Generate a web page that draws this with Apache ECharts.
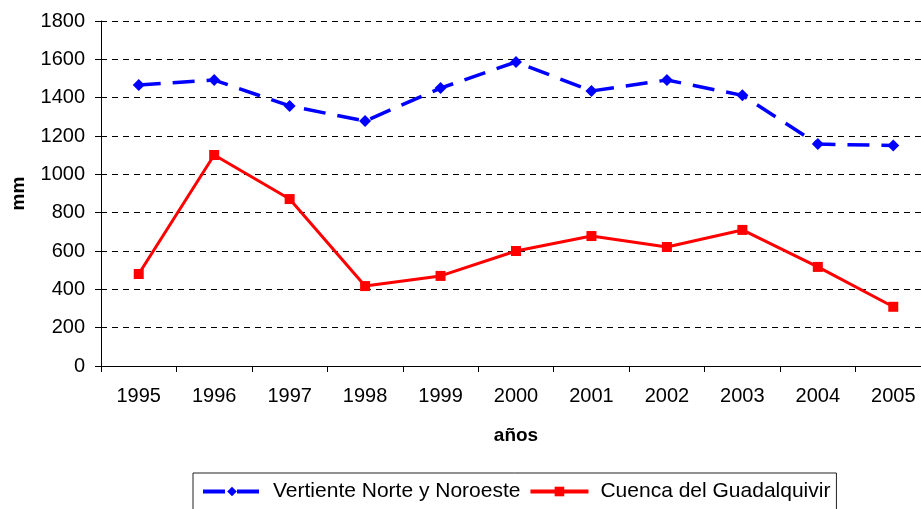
<!DOCTYPE html>
<html><head><meta charset="utf-8">
<script src="https://cdn.jsdelivr.net/npm/echarts@6/dist/echarts.min.js"></script>
<style>html,body{margin:0;padding:0;background:#fff}#c{width:921px;height:509px}</style>
</head><body><div id="c"></div>
<script>
const years = ['1995','1996','1997','1998','1999','2000','2001','2002','2003','2004','2005'];
const norte = [1466, 1492, 1357, 1278, 1450, 1586, 1435, 1492, 1412, 1158, 1150];
const guadalquivir = [480, 1101, 871, 417, 470, 600, 678, 621, 710, 517, 309];
const yTicks = [0, 200, 400, 600, 800, 1000, 1200, 1400, 1600, 1800];

const chart = echarts.init(document.getElementById('c'), null, {renderer:'canvas'});
const F = 'Liberation Sans, Arial, sans-serif';
chart.setOption({
  animation: false,
  grid: {left: 101, top: 21, width: 830, height: 345, containLabel: false, outerBoundsMode: 'none'},
  xAxis: {
    type: 'category', data: years, boundaryGap: true,
    name: 'años', nameLocation: 'middle', nameGap: 60,
    nameTextStyle: {fontFamily: F, fontSize: 19, fontWeight: 'bold', color: '#000'},
    axisLine: {lineStyle: {color: '#000', width: 1}},
    axisTick: {show: true, length: 6, inside: false, alignWithLabel: false, lineStyle: {color: '#000'}},
    axisLabel: {fontFamily: F, fontSize: 20, color: '#000', margin: 20},
    splitLine: {show: false}
  },
  yAxis: {
    type: 'value', min: 0, max: 1800, interval: 200,
    name: 'mm', nameLocation: 'middle', nameGap: 73, nameRotate: 90,
    nameTextStyle: {fontFamily: F, fontSize: 19, fontWeight: 'bold', color: '#000'},
    axisLine: {show: true, lineStyle: {color: '#000', width: 1}},
    axisTick: {show: true, length: 6, lineStyle: {color: '#000'}},
    axisLabel: {fontFamily: F, fontSize: 20, color: '#000', margin: 16,
      formatter: v => yTicks.includes(v) ? String(v) : ''},
    splitLine: {show: true, lineStyle: {color: '#000', type: [6, 5], width: 1}}
  },
  legend: {
    left: 193, top: 473, itemWidth: 58, itemHeight: 12, itemGap: 8,
    padding: [8, 6, 14, 8],
    borderColor: '#222', borderWidth: 1,
    lineStyle: {width: 4},
    textStyle: {fontFamily: F, fontSize: 21, color: '#000', padding: [0, 0, 0, 7]},
    data: ['Vertiente Norte y Noroeste', 'Cuenca del Guadalquivir']
  },
  series: [
    {name: 'Vertiente Norte y Noroeste', type: 'line', data: norte,
     symbol: 'diamond', symbolSize: 12,
     lineStyle: {color: '#0000ff', width: 3.5, type: [22, 12]},
     itemStyle: {color: '#0000ff'}},
    {name: 'Cuenca del Guadalquivir', type: 'line', data: guadalquivir,
     symbol: 'rect', symbolSize: 10,
     lineStyle: {color: '#ff0000', width: 3, type: 'solid'},
     itemStyle: {color: '#ff0000'}}
  ]
});
</script></body></html>
